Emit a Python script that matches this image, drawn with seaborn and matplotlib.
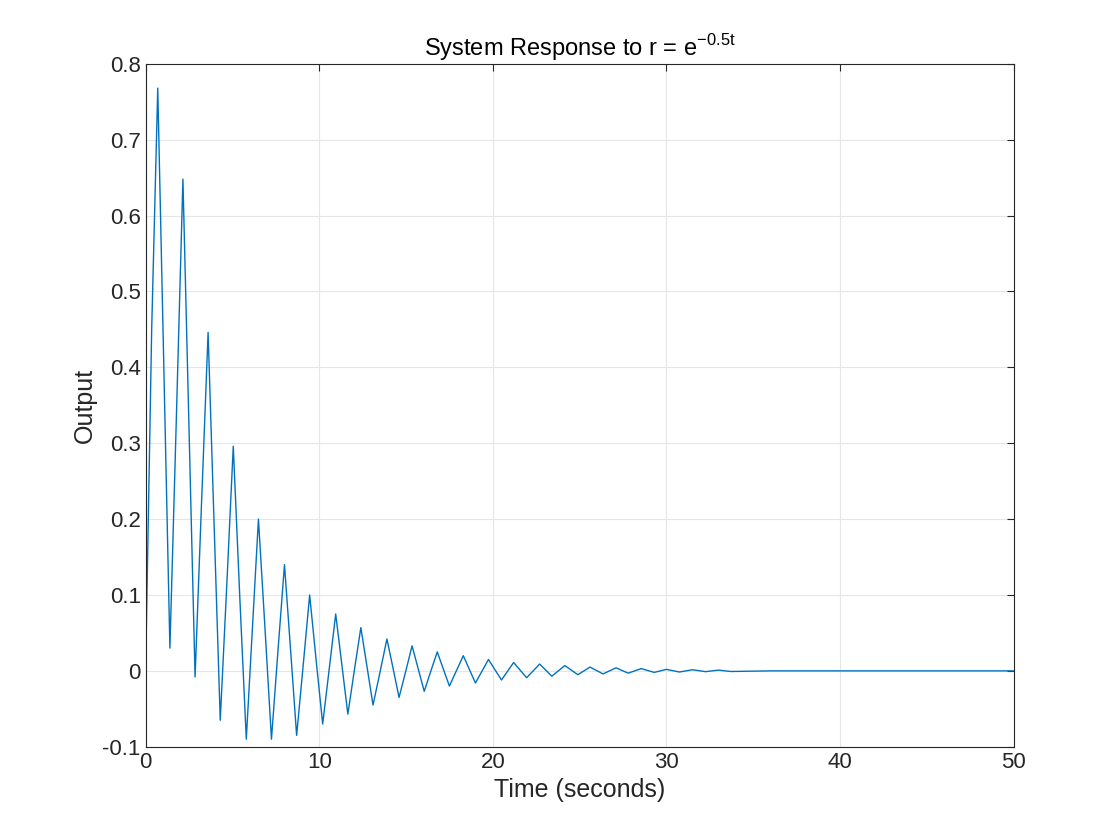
import numpy as np
import pandas as pd
import seaborn as sns
import matplotlib.pyplot as plt

# extrema (time, output)
peak_t = [0.7, 2.15, 3.6, 5.05, 6.5, 8.0, 9.45, 10.95, 12.4, 13.9, 15.35, 16.8,
          18.3, 19.75, 21.2, 22.7, 24.15, 25.6, 27.1, 28.55, 30.0, 31.5, 33.0]
peak_y = [0.768, 0.648, 0.446, 0.296, 0.200, 0.140, 0.100, 0.075, 0.057, 0.042, 0.033, 0.025,
          0.020, 0.015, 0.011, 0.009, 0.007, 0.005, 0.004, 0.003, 0.002, 0.0015, 0.001]
trough_t = [1.4, 2.85, 4.3, 5.8, 7.25, 8.7, 10.2, 11.65, 13.1, 14.6, 16.05, 17.5,
            19.0, 20.5, 21.95, 23.4, 24.9, 26.35, 27.8, 29.3, 30.75, 32.25, 33.7]
trough_y = [0.030, -0.008, -0.065, -0.090, -0.090, -0.085, -0.070, -0.057, -0.045, -0.035, -0.027, -0.020,
            -0.016, -0.012, -0.009, -0.007, -0.005, -0.004, -0.003, -0.002, -0.0015, -0.001, -0.0008]
# points read on the flanks between extrema
flank_t = [0.35, 1.05, 1.78, 2.5, 3.22, 3.95, 4.68, 5.42, 6.15, 6.88, 7.62, 8.35,
           9.08, 9.82, 10.58, 11.3, 12.02, 12.75, 13.5, 14.25, 14.98, 15.7, 16.42]
flank_y = [0.45, 0.40, 0.34, 0.32, 0.22, 0.19, 0.115, 0.10, 0.055, 0.055, 0.025, 0.028,
           0.008, 0.015, 0.003, 0.009, 0.0, 0.006, -0.002, 0.004, -0.001, 0.003, -0.001]
tail_t = [0.0, 36.0, 50.0]
tail_y = [0.0, 0.0, 0.0]

df = pd.DataFrame({"t": peak_t + trough_t + flank_t + tail_t,
                   "y": peak_y + trough_y + flank_y + tail_y}).sort_values("t")

sns.set_style("white")
plt.rcParams['font.family'] = ['Liberation Sans', 'DejaVu Sans']
fig, ax = plt.subplots(figsize=(11.2, 8.4), dpi=100)
fig.subplots_adjust(left=0.130, right=0.905, top=0.924, bottom=0.111)
sns.lineplot(data=df, x="t", y="y", ax=ax, color="#0072BD", linewidth=1.0, sort=False)

ax.set_xlim(0, 50)
ax.set_ylim(-0.1, 0.8)
ax.set_xticks(np.arange(0, 51, 10))
ax.set_yticks(np.round(np.arange(-0.1, 0.81, 0.1), 1))
ax.set_yticklabels(["-0.1", "0", "0.1", "0.2", "0.3", "0.4", "0.5", "0.6", "0.7", "0.8"])
ax.grid(True, color="#e6e6e6", linewidth=0.8)
ax.tick_params(direction="in", labelsize=16, colors="#262626", length=5,
               top=True, right=True)
for s in ax.spines.values():
    s.set_color("#262626")
    s.set_linewidth(0.8)
ax.set_xlabel("Time (seconds)", fontsize=18, color="#262626")
ax.set_ylabel("Output", fontsize=18, color="#262626")
ax.set_title(r"System Response to r = e$^{\mathregular{-0.5t}}$", fontsize=17, color="black")
fig.savefig("out.png")
